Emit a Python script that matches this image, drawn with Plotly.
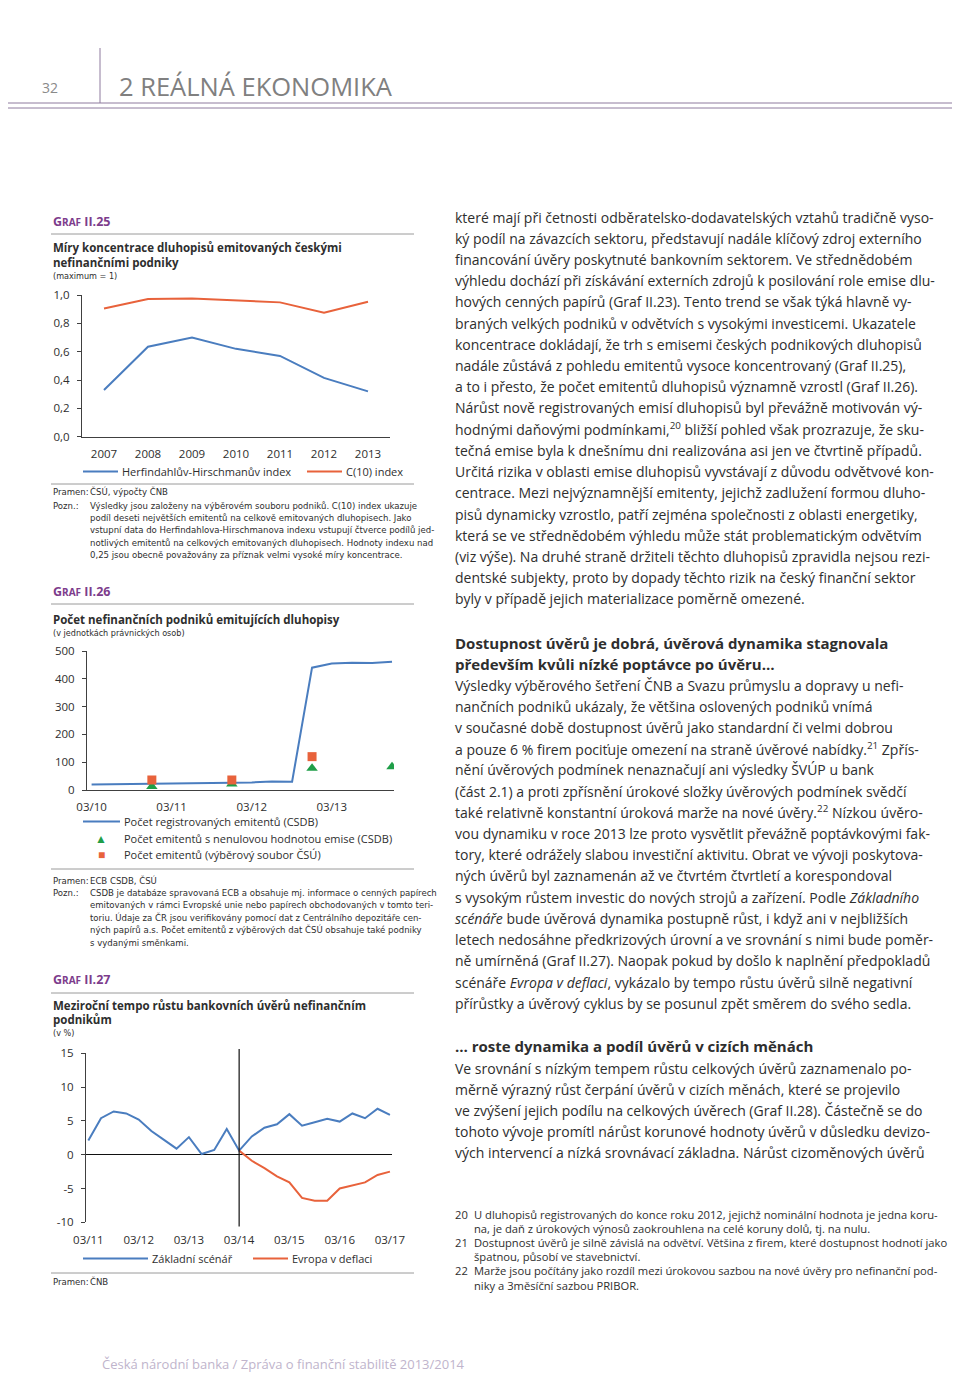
import plotly.graph_objects as go

W, H = 960, 1376
OFF = 8  # page body margin in which the figure is placed

# ---------------- data ----------------
# Graf II.25
years = ["2007", "2008", "2009", "2010", "2011", "2012", "2013"]
hhi_index = [0.33, 0.635, 0.70, 0.62, 0.57, 0.415, 0.32]
c10_index = [0.905, 0.972, 0.975, 0.96, 0.948, 0.875, 0.953]

# Graf II.26
quarters_26 = ["2010-03-01", "2010-06-01", "2010-09-01", "2010-12-01",
               "2011-03-01", "2011-06-01", "2011-09-01", "2011-12-01",
               "2012-03-01", "2012-06-01", "2012-09-01", "2012-12-01",
               "2013-03-01", "2013-06-01", "2013-09-01", "2013-12-01"]
registered_issuers = [20, 21, 21, 23, 23, 23, 24, 26, 27, 31, 30, 440, 455, 458, 457, 461]
nonzero_dates = ["2010-12-01", "2011-12-01", "2012-12-01", "2013-12-01"]
nonzero_issuers = [13, 22, 78, 84]
csu_dates = ["2010-12-01", "2011-12-01", "2012-12-01"]
csu_issuers = [36, 36, 120]
ticks_26 = ["2010-03-01", "2011-03-01", "2012-03-01", "2013-03-01"]
ticklabels_26 = ["03/10", "03/11", "03/12", "03/13"]

# Graf II.27
quarters_27 = ["2011-03-01", "2011-06-01", "2011-09-01", "2011-12-01",
               "2012-03-01", "2012-06-01", "2012-09-01", "2012-12-01",
               "2013-03-01", "2013-06-01", "2013-09-01", "2013-12-01",
               "2014-03-01", "2014-06-01", "2014-09-01", "2014-12-01",
               "2015-03-01", "2015-06-01", "2015-09-01", "2015-12-01",
               "2016-03-01", "2016-06-01", "2016-09-01", "2016-12-01",
               "2017-03-01"]
baseline = [2.1, 5.4, 6.4, 6.1, 5.2, 3.5, 2.2, 0.9, 2.6, 0.1, 0.7, 3.8,
            0.6, 2.7, 4.0, 4.5, 6.0, 4.3, 4.8, 5.3, 4.9, 6.1, 5.4, 6.8, 5.9]
deflation_dates = quarters_27[12:]
deflation = [0.6, -0.9, -2.0, -3.2, -4.1, -6.4, -6.8, -6.8, -5.0, -4.6, -4.1, -3.0, -2.5]
ticks_27 = ["2011-03-01", "2012-03-01", "2013-03-01", "2014-03-01",
            "2015-03-01", "2016-03-01", "2017-03-01"]
ticklabels_27 = ["03/11", "03/12", "03/13", "03/14", "03/15", "03/16", "03/17"]
yticks_27 = [-10, -5, 0, 5, 10, 15]
ytick_labels_27 = ["-10", "-5", "0", "5", "10", "15"]

# ---------------- texts ----------------
para1 = [
    "které mají při četnosti odběratelsko-dodavatelských vztahů tradičně vyso-",
    "ký podíl na závazcích sektoru, představují nadále klíčový zdroj externího",
    "financování úvěry poskytnuté bankovním sektorem. Ve střednědobém",
    "výhledu dochází při získávání externích zdrojů k posilování role emise dlu-",
    "hových cenných papírů (Graf II.23). Tento trend se však týká hlavně vy-",
    "braných velkých podniků v odvětvích s vysokými investicemi. Ukazatele",
    "koncentrace dokládají, že trh s emisemi českých podnikových dluhopisů",
    "nadále zůstává z pohledu emitentů vysoce koncentrovaný (Graf II.25),",
    "a to i přesto, že počet emitentů dluhopisů významně vzrostl (Graf II.26).",
    "Nárůst nově registrovaných emisí dluhopisů byl převážně motivován vý-",
    "hodnými daňovými podmínkami,<sup>20</sup> bližší pohled však prozrazuje, že sku-",
    "tečná emise byla k dnešnímu dni realizována asi jen ve čtvrtině případů.",
    "Určitá rizika v oblasti emise dluhopisů vyvstávají z důvodu odvětvové kon-",
    "centrace. Mezi nejvýznamnější emitenty, jejichž zadlužení formou dluho-",
    "pisů dynamicky vzrostlo, patří zejména společnosti z oblasti energetiky,",
    "která se ve střednědobém výhledu může stát problematickým odvětvím",
    "(viz výše). Na druhé straně držiteli těchto dluhopisů zpravidla nejsou rezi-",
    "dentské subjekty, proto by dopady těchto rizik na český finanční sektor",
    "byly v případě jejich materializace poměrně omezené.",
]
heading2 = ["Dostupnost úvěrů je dobrá, úvěrová dynamika stagnovala",
            "především kvůli nízké poptávce po úvěru…"]
para2 = [
    "Výsledky výběrového šetření ČNB a Svazu průmyslu a dopravy u nefi-",
    "nančních podniků ukázaly, že většina oslovených podniků vnímá",
    "v současné době dostupnost úvěrů jako standardní či velmi dobrou",
    "a pouze 6 % firem pociťuje omezení na straně úvěrové nabídky.<sup>21</sup> Zpřís-",
    "nění úvěrových podmínek nenaznačují ani výsledky ŠVÚP u bank",
    "(část 2.1) a proti zpřísnění úrokové složky úvěrových podmínek svědčí",
    "také relativně konstantní úroková marže na nové úvěry.<sup>22</sup> Nízkou úvěro-",
    "vou dynamiku v roce 2013 lze proto vysvětlit převážně poptávkovými fak-",
    "tory, které odrážely slabou investiční aktivitu. Obrat ve vývoji poskytova-",
    "ných úvěrů byl zaznamenán až ve čtvrtém čtvrtletí a korespondoval",
    "s vysokým růstem investic do nových strojů a zařízení. Podle <i>Základního</i>",
    "<i>scénáře</i> bude úvěrová dynamika postupně růst, i když ani v nejbližších",
    "letech nedosáhne předkrizových úrovní a ve srovnání s nimi bude poměr-",
    "ně umírněná (Graf II.27). Naopak pokud by došlo k naplnění předpokladů",
    "scénáře <i>Evropa v deflaci</i>, vykázalo by tempo růstu úvěrů silně negativní",
    "přírůstky a úvěrový cyklus by se posunul zpět směrem do svého sedla.",
]
heading3 = "… roste dynamika a podíl úvěrů v cizích měnách"
para3 = [
    "Ve srovnání s nízkým tempem růstu celkových úvěrů zaznamenalo po-",
    "měrně výrazný růst čerpání úvěrů v cizích měnách, které se projevilo",
    "ve zvýšení jejich podílu na celkových úvěrech (Graf II.28). Částečně se do",
    "tohoto vývoje promítl nárůst korunové hodnoty úvěrů v důsledku devizo-",
    "vých intervencí a nízká srovnávací základna. Nárůst cizoměnových úvěrů",
]
footnotes = [
    ("20", "U dluhopisů registrovaných do konce roku 2012, jejichž nominální hodnota je jedna koru-"),
    ("", "na, je daň z úrokových výnosů zaokrouhlena na celé koruny dolů, tj. na nulu."),
    ("21", "Dostupnost úvěrů je silně závislá na odvětví. Většina z firem, které dostupnost hodnotí jako"),
    ("", "špatnou, působí ve stavebnictví."),
    ("22", "Marže jsou počítány jako rozdíl mezi úrokovou sazbou na nové úvěry pro nefinanční pod-"),
    ("", "niky a 3měsíční sazbou PRIBOR."),
]
note25 = [
    "Výsledky jsou založeny na výběrovém souboru podniků. C(10) index ukazuje",
    "podíl deseti největších emitentů na celkově emitovaných dluhopisech. Jako",
    "vstupní data do Herfindahlova-Hirschmanova indexu vstupují čtverce podílů jed-",
    "notlivých emitentů na celkových emitovaných dluhopisech. Hodnoty indexu nad",
    "0,25 jsou obecně považovány za příznak velmi vysoké míry koncentrace.",
]
note26 = [
    "CSDB je databáze spravovaná ECB a obsahuje mj. informace o cenných papírech",
    "emitovaných v rámci Evropské unie nebo papírech obchodovaných v tomto teri-",
    "toriu. Údaje za ČR jsou verifikovány pomocí dat z Centrálního depozitáře cen-",
    "ných papírů a.s. Počet emitentů z výběrových dat ČSÚ obsahuje také podniky",
    "s vydanými směnkami.",
]

# ---------------- styles ----------------
BODY = "Open Sans, Noto Sans, sans-serif"
NARROW = "Liberation Sans Narrow, DejaVu Sans Condensed, Roboto Condensed, Roboto, sans-serif"
BLUE = "#4a7dbf"
ORANGE = "#e8623b"
GREEN = "#1f9e48"
PURPLE = "#7d3c8c"
TXT = "#2e2e2e"
AXIS = "#404040"


def px(x):
    return (x - OFF) / W


def py(y):
    return 1 - (y - OFF) / H


annotations = []
shapes = []


def text(x, y, s, size=12, color=TXT, family=BODY, xanchor="left", weight=None):
    f = dict(size=size, color=color, family=family)
    if weight:
        f["weight"] = weight
    annotations.append(dict(x=px(x), y=py(y), xref="paper", yref="paper", text=s,
                            showarrow=False, xanchor=xanchor, yanchor="middle",
                            font=f, align="left"))


def hline(x0, x1, y, color="#9a9a9a", width=1):
    shapes.append(dict(type="line", xref="paper", yref="paper", x0=px(x0), x1=px(x1),
                       y0=py(y), y1=py(y), line=dict(color=color, width=width)))


def vline(x, y0, y1, color, width=1):
    shapes.append(dict(type="line", xref="paper", yref="paper", x0=px(x), x1=px(x),
                       y0=py(y0), y1=py(y1), line=dict(color=color, width=width)))


# ---------------- figure ----------------
fig = go.Figure()

# Graf II.25
fig.add_trace(go.Scatter(x=years, y=hhi_index, mode="lines", line=dict(color=BLUE, width=2),
                         xaxis="x", yaxis="y", name="Herfindahlův-Hirschmanův index"))
fig.add_trace(go.Scatter(x=years, y=c10_index, mode="lines", line=dict(color=ORANGE, width=2),
                         xaxis="x", yaxis="y", name="C(10) index"))

# Graf II.26
fig.add_trace(go.Scatter(x=quarters_26, y=registered_issuers, mode="lines",
                         line=dict(color=BLUE, width=2), xaxis="x2", yaxis="y2",
                         name="Počet registrovaných emitentů (CSDB)"))
fig.add_trace(go.Scatter(x=nonzero_dates, y=nonzero_issuers, mode="markers",
                         marker=dict(symbol="triangle-up", color=GREEN, size=10),
                         xaxis="x2", yaxis="y2",
                         name="Počet emitentů s nenulovou hodnotou emise (CSDB)"))
fig.add_trace(go.Scatter(x=csu_dates, y=csu_issuers, mode="markers",
                         marker=dict(symbol="square", color=ORANGE, size=9),
                         xaxis="x2", yaxis="y2",
                         name="Počet emitentů (výběrový soubor ČSÚ)"))

# Graf II.27
fig.add_trace(go.Scatter(x=quarters_27, y=baseline, mode="lines",
                         line=dict(color=BLUE, width=2), xaxis="x3", yaxis="y3",
                         name="Základní scénář"))
fig.add_trace(go.Scatter(x=deflation_dates, y=deflation, mode="lines",
                         line=dict(color=ORANGE, width=2), xaxis="x3", yaxis="y3",
                         name="Evropa v deflaci"))

tickfont = dict(family=BODY, size=11.5, color=TXT)
common_y = dict(showgrid=False, showline=True, linecolor=AXIS, linewidth=1, ticks="outside",
                ticklen=4, tickcolor=AXIS, tickfont=tickfont, zeroline=False,
                ticklabelstandoff=5, fixedrange=True, automargin=False)
common_x = dict(showgrid=False, ticks="", tickfont=tickfont, zeroline=False, fixedrange=True,
                automargin=False)

fig.update_layout(
    width=W, height=H, autosize=False,
    margin=dict(l=0, r=0, t=0, b=0, pad=0, autoexpand=False),
    paper_bgcolor="white", plot_bgcolor="white", showlegend=False,
    separators=", ",
    xaxis=dict(common_x, type="category", domain=[px(82), px(390)], range=[-0.5, 6.5],
               anchor="y", showline=True, linecolor=AXIS, linewidth=1, ticklabelstandoff=6),
    yaxis=dict(common_y, domain=[py(436.7), py(295)], range=[0, 1], dtick=0.2,
               tickformat=".1f", anchor="x"),
    xaxis2=dict(common_x, type="date", domain=[px(87), px(394)],
                range=["2010-02-08", "2013-12-10"], tickvals=ticks_26, ticktext=ticklabels_26,
                anchor="y2", showline=True, linecolor=AXIS, linewidth=1, ticklabelstandoff=6),
    yaxis2=dict(common_y, domain=[py(790), py(651)], range=[0, 500], dtick=100, anchor="x2"),
    xaxis3=dict(common_x, type="date", domain=[px(86), px(392)],
                range=["2011-02-12", "2017-03-16"], tickvals=ticks_27, ticktext=ticklabels_27,
                anchor="y3", showline=False, ticklabelstandoff=9),
    yaxis3=dict(common_y, domain=[py(1222.3), py(1053.3)], range=[-10, 15],
                tickvals=yticks_27, ticktext=ytick_labels_27, anchor="x3",
                zeroline=True, zerolinecolor="#111111", zerolinewidth=1),
)

# vertical divider in Graf II.27 at 03/14
shapes.append(dict(type="line", xref="x3", yref="y3 domain", x0="2014-03-01", x1="2014-03-01",
                   y0=-0.025, y1=1.025, line=dict(color="#111111", width=1.2)))

# ---------------- header / footer ----------------
vline(100, 48, 103, "#8e7a9e", 1)
hline(8, 960, 103, "#8e7a9e", 1)
hline(8, 960, 108, "#8e7a9e", 1)
text(50, 88, "32", size=14, color="#8a8a8a", xanchor="center")
text(117, 86, "2 REÁLNÁ EKONOMIKA", size=25.5, color="#808080")
text(100, 1364, "Česká národní banka / Zpráva o finanční stabilitě 2013/2014", size=13,
     color="#c0b4cc")


def graf_label(y, num):
    text(51, y, "G<span style='font-size:10px'>RAF</span> II." + num, size=12.5, color=PURPLE,
         weight=700)


# ---------------- Graf II.25 texts ----------------
graf_label(221, "25")
hline(51, 414, 234)
text(51, 248, "<b>Míry koncentrace dluhopisů emitovaných českými</b>", size=11.5)
text(51, 262, "<b>nefinančními podniky</b>", size=11.5)
text(51, 276, "(maximum = 1)", size=9, family=NARROW)
hline(83, 118, 471.5, BLUE, 2)
text(120, 471, "Herfindahlův-Hirschmanův index", size=11)
hline(307, 342, 471.5, ORANGE, 2)
text(344, 471, "C(10) index", size=11)
hline(51, 414, 484)
text(51, 492, "Pramen:", size=9.5, family=NARROW)
text(88, 492, "ČSÚ, výpočty ČNB", size=9.5, family=NARROW)
text(51, 505, "Pozn.:", size=9.5, family=NARROW)
for i, line in enumerate(note25):
    text(88, 505 + i * 12.4, line, size=9.5, family=NARROW)

# ---------------- Graf II.26 texts ----------------
graf_label(591, "26")
hline(51, 414, 604)
text(51, 619, "<b>Počet nefinančních podniků emitujících dluhopisy</b>", size=11.5)
text(51, 632.5, "(v jednotkách právnických osob)", size=9, family=NARROW)
hline(83, 120, 821.5, BLUE, 2)
text(122, 821, "Počet registrovaných emitentů (CSDB)", size=11)
text(101, 838, "▲", size=12, color=GREEN, xanchor="center")
text(122, 838, "Počet emitentů s nenulovou hodnotou emise (CSDB)", size=11)
text(101, 854, "■", size=12, color=ORANGE, xanchor="center")
text(122, 854, "Počet emitentů (výběrový soubor ČSÚ)", size=11)
hline(51, 414, 869)
text(51, 880, "Pramen:", size=9.5, family=NARROW)
text(88, 880, "ECB CSDB, ČSÚ", size=9.5, family=NARROW)
text(51, 892, "Pozn.:", size=9.5, family=NARROW)
for i, line in enumerate(note26):
    text(88, 892 + i * 12.5, line, size=9.5, family=NARROW)

# ---------------- Graf II.27 texts ----------------
graf_label(979, "27")
hline(51, 414, 993)
text(51, 1005, "<b>Meziroční tempo růstu bankovních úvěrů nefinančním</b>", size=11.5)
text(51, 1019.5, "<b>podnikům</b>", size=11.5)
text(51, 1033, "(v %)", size=9, family=NARROW)
hline(83, 148, 1258.5, BLUE, 2)
text(150, 1258, "Základní scénář", size=11)
hline(253, 288, 1258.5, ORANGE, 2)
text(290, 1258, "Evropa v deflaci", size=11)
hline(51, 414, 1273)
text(51, 1281.5, "Pramen:", size=9.5, family=NARROW)
text(88, 1281.5, "ČNB", size=9.5, family=NARROW)

# ---------------- right column body text ----------------
LS = 21.22
for i, line in enumerate(para1):
    text(453, 217 + i * LS, line, size=14)
text(453, 643, "<b>" + heading2[0] + "</b>", size=15)
text(453, 664, "<b>" + heading2[1] + "</b>", size=15)
for i, line in enumerate(para2):
    text(453, 685 + i * LS, line, size=14)
text(453, 1046, "<b>" + heading3 + "</b>", size=15)
for i, line in enumerate(para3):
    text(453, 1068 + i * LS, line, size=14)
for i, (num, line) in enumerate(footnotes):
    yy = 1214 + i * 14.2
    if num:
        text(453, yy, num, size=11.2)
    text(472, yy, line, size=11.2)

fig.update_layout(annotations=annotations, shapes=shapes)
fig.write_html("out.html")
